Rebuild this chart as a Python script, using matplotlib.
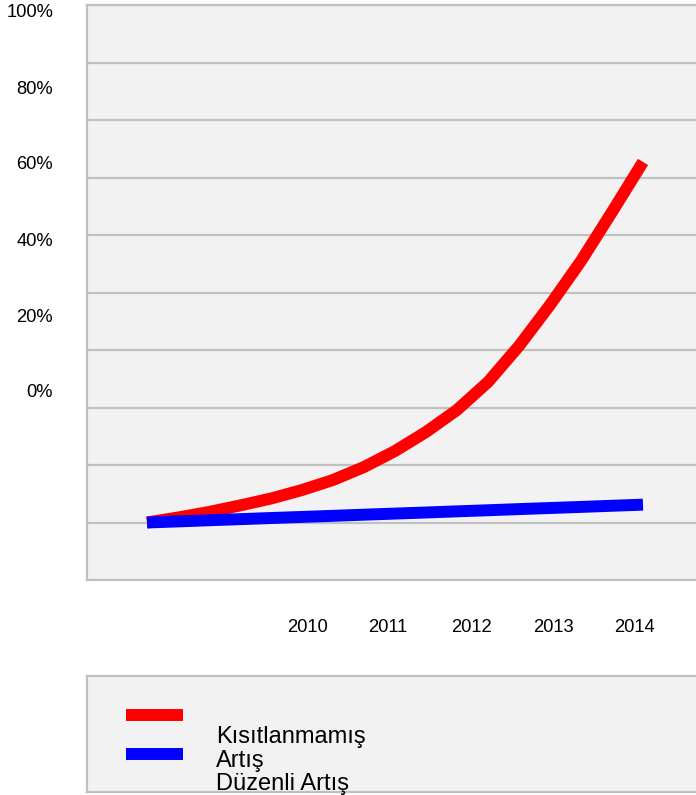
import matplotlib
matplotlib.use("Agg")
import matplotlib.pyplot as plt

plt.rcParams['font.family'] = ['Liberation Sans', 'DejaVu Sans']

# ---- data (y in grid units, 1 unit per gridline) ----
steps = list(range(17))
unconstrained = [1.000, 1.087, 1.183, 1.296, 1.417, 1.565, 1.739, 1.965, 2.243,
                 2.574, 2.957, 3.443, 4.070, 4.783, 5.548, 6.400, 7.270]
regular = [1.000, 1.019, 1.039, 1.058, 1.078, 1.097, 1.116, 1.136, 1.155,
           1.174, 1.194, 1.213, 1.233, 1.252, 1.271, 1.291, 1.310]
years = ['2010', '2011', '2012', '2013', '2014']
pct_labels = ['100%', '80%', '60%', '40%', '20%', '0%']
legend_labels = ['Kısıtlanmamış', 'Artış', 'Düzenli Artış']
series_colors = ['#ff0000', '#0000ff']

W, H = 696, 795
fig = plt.figure(figsize=(W / 100, H / 100), dpi=100)

def fx(x):
    return x / W

def fy(y):
    return 1 - y / H

grid_c = '#c0c0c0'
bg = '#f2f2f2'

# main plot area
left, top, bottom = 87, 5, 580
x0_px, step_px = 147, 31
ax_w = 1 - fx(left) + 0.01
ax = fig.add_axes([fx(left), fy(bottom), ax_w, (bottom - top) / H])
ax.set_facecolor(bg)
ax.set_ylim(0, 10)
right_px = left + ax_w * W
ax.set_xlim((left - x0_px) / step_px, (right_px - x0_px) / step_px)
ax.set_yticks(range(0, 11))
ax.yaxis.grid(True, color=grid_c, lw=1.6)
ax.set_axisbelow(True)
ax.tick_params(left=False, bottom=False, labelleft=False, labelbottom=False)
for s in ['left', 'bottom', 'top']:
    ax.spines[s].set_color(grid_c)
    ax.spines[s].set_linewidth(1.6)
ax.spines['right'].set_visible(False)

ax.plot(steps, unconstrained, color=series_colors[0], lw=8.6,
        solid_capstyle='butt', solid_joinstyle='round')
ax.plot(steps, regular, color=series_colors[1], lw=8.6,
        solid_capstyle='butt', solid_joinstyle='round')

# y labels (not aligned with gridlines in the reference)
y_baselines = [17, 94, 169, 246, 322, 397]
for lab, yb in zip(pct_labels, y_baselines):
    fig.text(fx(53), fy(yb), lab, ha='right', va='baseline', fontsize=13.2)

# x labels
x_centers = [307, 388, 471, 553, 634]
for lab, xc in zip(years, x_centers):
    fig.text(fx(xc), fy(632), lab, ha='center', va='baseline', fontsize=13.2)

# legend box
lg_top, lg_bot = 676, 792
lax = fig.add_axes([fx(left), fy(lg_bot), ax_w, (lg_bot - lg_top) / H])
lax.set_facecolor(bg)
lax.set_xticks([])
lax.set_yticks([])
for s in ['left', 'bottom', 'top']:
    lax.spines[s].set_color(grid_c)
    lax.spines[s].set_linewidth(1.6)
lax.spines['right'].set_visible(False)
lax.set_xlim(left, right_px)
lax.set_ylim(lg_bot, lg_top)
lax.plot([126, 183], [715, 715], color=series_colors[0], lw=8.6, solid_capstyle='butt')
lax.plot([126, 183], [753.5, 753.5], color=series_colors[1], lw=8.6, solid_capstyle='butt')

text_baselines = [743, 767, 790]
for lab, yb in zip(legend_labels, text_baselines):
    fig.text(fx(216), fy(yb), lab, ha='left', va='baseline', fontsize=17)

fig.savefig('out.png', dpi=100)
